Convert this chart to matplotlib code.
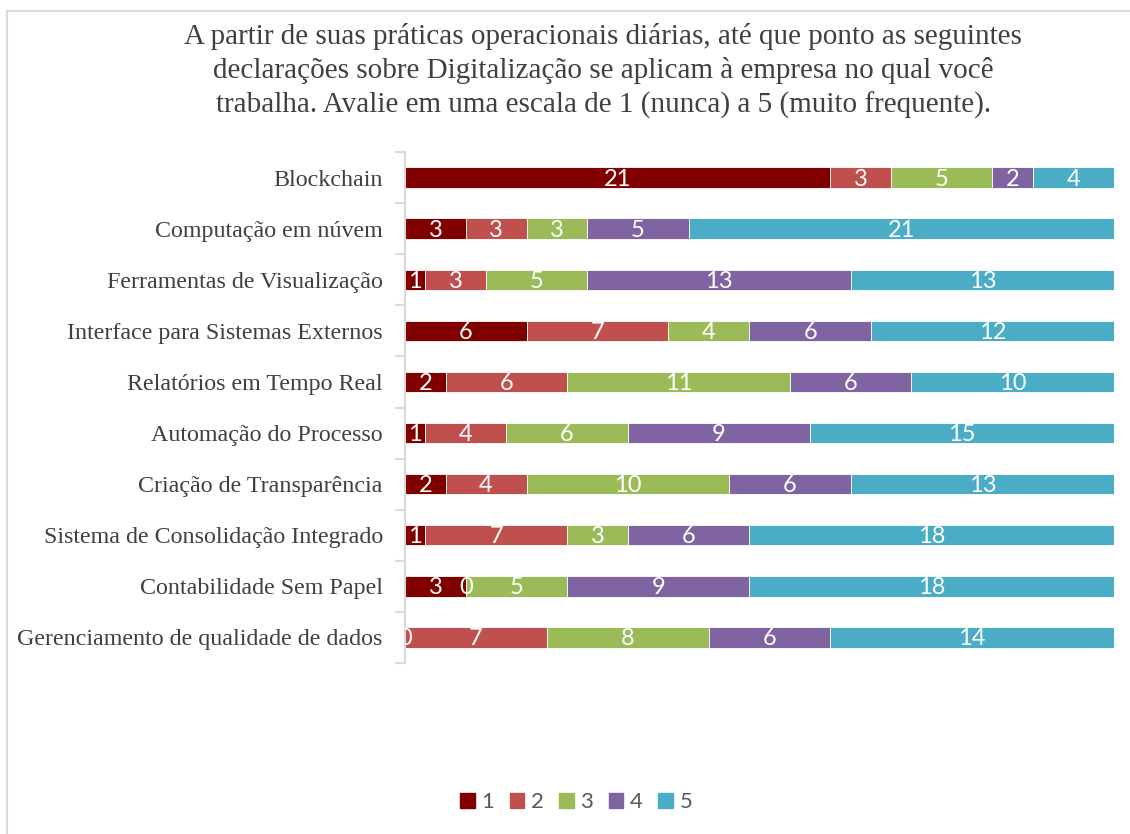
import numpy as np
import matplotlib.pyplot as plt
from matplotlib.lines import Line2D

categorias = [
    "Blockchain",
    "Computação em núvem",
    "Ferramentas de Visualização",
    "Interface para Sistemas Externos",
    "Relatórios em Tempo Real",
    "Automação do Processo",
    "Criação de Transparência",
    "Sistema de Consolidação Integrado",
    "Contabilidade Sem Papel",
    "Gerenciamento de qualidade de dados",
]
nivel_1 = [21, 3, 1, 6, 2, 1, 2, 1, 3, 0]
nivel_2 = [3, 3, 3, 7, 6, 4, 4, 7, 0, 7]
nivel_3 = [5, 3, 5, 4, 11, 6, 10, 3, 5, 8]
nivel_4 = [2, 5, 13, 6, 6, 9, 6, 6, 9, 6]
nivel_5 = [4, 21, 13, 12, 10, 15, 13, 18, 18, 14]
series = ["1", "2", "3", "4", "5"]
cores = ["#800000", "#C0504D", "#9BBB59", "#8064A2", "#4BACC6"]

titulo = ("A partir de suas práticas operacionais diárias, até que ponto as seguintes\n"
          "declarações sobre Digitalização se aplicam à empresa no qual você\n"
          "trabalha. Avalie em uma escala de 1 (nunca) a 5 (muito frequente).")

serif = "Liberation Serif"
sans = "Lato"

fig = plt.figure(figsize=(11.3, 8.34), dpi=100)
ax = fig.add_axes([405 / 1130, 1 - 663 / 834, 709 / 1130, 511 / 834])

dados = np.array([nivel_1, nivel_2, nivel_3, nivel_4, nivel_5])
y = np.arange(len(categorias))
esquerda = np.zeros(len(categorias))
for i, vals in enumerate(dados):
    ax.barh(y, vals, left=esquerda, height=0.4, color=cores[i],
            edgecolor="white", linewidth=0.6)
    for j, v in enumerate(vals):
        # rótulo branco no meio de cada segmento (o 0 fica na borda)
        ax.text(esquerda[j] + v / 2, y[j] + 0.03, str(v), ha="center", va="center",
                color="white", fontsize=17, family=sans, clip_on=True)
    esquerda += vals

ax.set_xlim(0, 35)
ax.set_ylim(9.5, -0.5)
ax.set_yticks(y)
ax.set_yticklabels(categorias, family=serif, fontsize=17.3, color="#404040")
ax.tick_params(axis="y", which="major", length=0, pad=16)
ax.set_yticks(np.arange(-0.5, 10, 1), minor=True)
ax.tick_params(axis="y", which="minor", length=7, color="#D9D9D9", width=1.5)
ax.set_xticks([])
for s in ["top", "right", "bottom"]:
    ax.spines[s].set_visible(False)
ax.spines["left"].set_color("#D9D9D9")
ax.spines["left"].set_linewidth(1.5)

fig.text(0.534, 0.973, titulo, ha="center", va="top", family=serif,
         fontsize=21, color="#404040", linespacing=1.37)

alcas = [plt.Rectangle((0, 0), 1, 1, color=c) for c in cores]
fig.legend(alcas, series, loc="center", bbox_to_anchor=(0.51, 1 - 802 / 834),
           ncol=5, frameon=False, handlelength=0.65, handleheight=0.65,
           handletextpad=0.3, columnspacing=0.7,
           prop={"family": sans, "size": 16}, labelcolor="#595959")

fig.add_artist(Line2D([7 / 1130, 7 / 1130], [0, 1 - 11 / 834], color="#D9D9D9", lw=1.5))
fig.add_artist(Line2D([7 / 1130, 1], [1 - 11 / 834, 1 - 11 / 834], color="#D9D9D9", lw=1.5))

fig.savefig("out.png", dpi=100)
